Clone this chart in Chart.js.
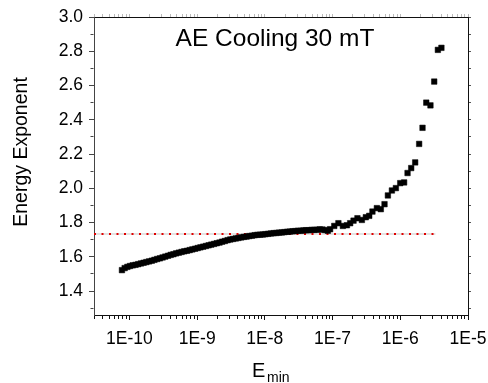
<!DOCTYPE html>
<html>
<head>
<meta charset="utf-8">
<title>AE Cooling 30 mT</title>
<script src="https://cdn.jsdelivr.net/npm/chart.js@4.4.1/dist/chart.umd.min.js"></script>
<style>
  html, body { margin: 0; padding: 0; background: #fff; }
  #aeChart { display: block; }
</style>
</head>
<body>
<canvas id="aeChart" width="488" height="383"></canvas>
<script>
// DATA

const eMin = [
  7.76e-11, 8.51e-11, 9.33e-11,
  1.02e-10, 1.12e-10, 1.23e-10, 1.35e-10, 1.48e-10, 1.62e-10, 1.78e-10, 1.95e-10,
  2.14e-10, 2.34e-10, 2.57e-10, 2.82e-10, 3.09e-10, 3.39e-10, 3.72e-10, 4.07e-10,
  4.47e-10, 4.9e-10, 5.37e-10, 5.89e-10, 6.46e-10, 7.08e-10, 7.76e-10, 8.51e-10, 9.33e-10,
  1.02e-9, 1.12e-9, 1.23e-9, 1.35e-9, 1.48e-9, 1.62e-9, 1.78e-9, 1.95e-9,
  2.14e-9, 2.34e-9, 2.57e-9, 2.82e-9, 3.09e-9, 3.39e-9, 3.72e-9, 4.07e-9,
  4.47e-9, 4.9e-9, 5.37e-9, 5.89e-9, 6.46e-9, 7.08e-9, 7.76e-9, 8.51e-9, 9.33e-9,
  1.02e-8, 1.12e-8, 1.23e-8, 1.35e-8, 1.48e-8, 1.62e-8, 1.78e-8, 1.95e-8,
  2.14e-8, 2.34e-8, 2.57e-8, 2.82e-8, 3.09e-8, 3.39e-8, 3.72e-8, 4.07e-8,
  4.47e-8, 4.9e-8, 5.37e-8, 5.89e-8, 6.46e-8, 7.08e-8, 7.76e-8, 8.51e-8,
  9.2e-8, 1.06e-7, 1.22e-7, 1.42e-7, 1.63e-7, 1.82e-7, 2.04e-7, 2.33e-7,
  2.71e-7, 3.1e-7, 3.48e-7, 3.88e-7, 4.51e-7, 5.16e-7, 5.85e-7, 6.56e-7,
  7.52e-7, 8.61e-7, 9.98e-7, 1.14e-6, 1.28e-6, 1.45e-6, 1.66e-6, 1.9e-6,
  2.13e-6, 2.42e-6, 2.79e-6, 3.17e-6, 3.59e-6, 4.05e-6,
];

const energyExponent = [
  1.522, 1.534, 1.541,
  1.546, 1.55, 1.553, 1.557, 1.561, 1.565, 1.569, 1.573,
  1.577, 1.582, 1.587, 1.591, 1.596, 1.601, 1.606, 1.611,
  1.615, 1.62, 1.624, 1.628, 1.632, 1.635, 1.639, 1.643, 1.647,
  1.651, 1.655, 1.659, 1.663, 1.667, 1.671, 1.675, 1.679,
  1.683, 1.688, 1.692, 1.697, 1.701, 1.704, 1.707, 1.71,
  1.713, 1.716, 1.718, 1.721, 1.723, 1.726, 1.728, 1.729, 1.73,
  1.732, 1.734, 1.736, 1.738, 1.739, 1.741, 1.742, 1.744,
  1.746, 1.747, 1.749, 1.75, 1.752, 1.752, 1.754, 1.755,
  1.755, 1.757, 1.757, 1.758, 1.76, 1.759, 1.756, 1.752,
  1.761, 1.78, 1.796, 1.78, 1.784, 1.796, 1.811, 1.825,
  1.815, 1.831, 1.839, 1.864, 1.884, 1.878, 1.907, 1.958,
  1.987, 2.001, 2.03, 2.034, 2.089, 2.118, 2.151, 2.259,
  2.353, 2.5, 2.484, 2.623, 2.808, 2.82,
];

// plateau level (dotted red line)
const plateauX = [3e-11, 3.3e-6];
const plateauY = [1.733, 1.733];

const xTickLabels = ["1E-10", "1E-9", "1E-8", "1E-7", "1E-6", "1E-5"];
const yTickLabels = ["1.4", "1.6", "1.8", "2.0", "2.2", "2.4", "2.6", "2.8", "3.0"];

const titleText = "AE Cooling 30 mT";
const yTitle = "Energy Exponent";

// HELPERS

const FONT = '"Liberation Sans", Arial, Helvetica, sans-serif';
const xMajor = xTickLabels.map((s) => Number(s.replace("E", "e")));

function logTicks(scale) {
  const out = [];
  for (let e = -11; e <= -5; e++) {
    for (let m = 1; m <= 9; m++) {
      const v = Number(m + "e" + e);
      if (v >= scale.min * 0.999 && v <= scale.max * 1.001) out.push({ value: v, major: m === 1 });
    }
  }
  scale.ticks = out;
}

function linTicks(scale) {
  const out = [];
  for (let i = 13; i <= 30; i++) {
    const v = i / 10;
    out.push({ value: v, major: yTickLabels.includes(v.toFixed(1)) });
  }
  scale.ticks = out;
}

const isMajorX = (ctx) => ctx.tick && xMajor.some((v) => Math.abs(v - ctx.tick.value) / v < 1e-6);
const isMajorY = (ctx) => ctx.tick && yTickLabels.includes(ctx.tick.value.toFixed(1));

const data = eMin.map((x, i) => ({ x: x, y: energyExponent[i] }));
const plateau = plateauX.map((x, i) => ({ x: x, y: plateauY[i] }));

const textPlugin = {
  id: "texts",
  afterDraw(chart) {
    const ctx = chart.ctx;
    const a = chart.chartArea;
    ctx.save();
    ctx.fillStyle = "#000";
    ctx.textBaseline = "alphabetic";

    ctx.font = "24.5px " + FONT;
    ctx.textAlign = "center";
    ctx.fillText(titleText, a.left + 181, a.top + 29);

    ctx.save();
    ctx.translate(27, 152);
    ctx.rotate(-Math.PI / 2);
    ctx.font = "19.5px " + FONT;
    ctx.fillText(yTitle, 0, 0);
    ctx.restore();

    ctx.textAlign = "left";
    ctx.font = "20px " + FONT;
    ctx.fillText("E", 252, 377);
    ctx.font = "14px " + FONT;
    ctx.fillText("min", 267, 382);
    ctx.restore();
  },
};

// CHART

new Chart(document.getElementById("aeChart"), {
  type: "scatter",
  data: {
    datasets: [
      {
        label: "plateau base",
        type: "line",
        data: plateau,
        borderColor: "#c8c8c8",
        borderWidth: 1,
        pointRadius: 0,
        fill: false,
        order: 3,
      },
      {
        label: "plateau",
        type: "line",
        data: plateau,
        borderColor: "#e00000",
        borderWidth: 2,
        borderDash: [2, 5.5],
        pointRadius: 0,
        fill: false,
        order: 2,
      },
      {
        label: "Energy Exponent",
        data: data,
        pointStyle: "rect",
        pointRadius: 3.9,
        pointBorderWidth: 0.5,
        backgroundColor: "#000",
        borderColor: "#000",
        order: 1,
      },
    ],
  },
  options: {
    responsive: false,
    animation: false,
    events: [],
    layout: { padding: { top: 17, right: 20, bottom: 0, left: 0 } },
    plugins: {
      legend: { display: false },
      tooltip: { enabled: false },
      title: { display: false },
    },
    scales: {
      x: {
        type: "logarithmic",
        position: "bottom",
        min: 3e-11,
        max: 1e-5,
        afterBuildTicks: logTicks,
        afterFit: (s) => { s.height = 68; s.paddingLeft = 0; s.paddingRight = 0; },
        border: { display: true, color: "#111", width: 1 },
        grid: {
          drawOnChartArea: false,
          drawTicks: true,
          tickLength: 5,
          tickColor: "#111",
          tickBorderDash: (ctx) => (isMajorX(ctx) ? [] : [3, 10]),
        },
        ticks: {
          autoSkip: false,
          maxRotation: 0,
          padding: 9,
          color: "#000",
          font: { family: FONT, size: 17.5 },
          callback: (v) => {
            const i = xMajor.findIndex((m) => Math.abs(m - v) / m < 1e-6);
            return i >= 0 ? xTickLabels[i] : "";
          },
        },
      },
      x2: {
        type: "logarithmic",
        position: "top",
        min: 3e-11,
        max: 1e-5,
        afterBuildTicks: logTicks,
        afterFit: (s) => { s.height = 0; s.paddingLeft = 0; s.paddingRight = 0; },
        border: { display: true, color: "#111", width: 1 },
        grid: { drawOnChartArea: false, tickLength: 3, tickColor: "#bbb" },
        ticks: { display: false, autoSkip: false },
      },
      y: {
        type: "linear",
        position: "left",
        min: 1.26,
        max: 3.0,
        afterBuildTicks: linTicks,
        afterFit: (s) => { s.width = 94; s.paddingTop = 0; s.paddingBottom = 0; },
        border: { display: true, color: "#444", width: 1 },
        grid: {
          drawOnChartArea: false,
          tickLength: 5,
          tickColor: "#444",
          tickBorderDash: (ctx) => (isMajorY(ctx) ? [] : [3, 10]),
          tickBorderDashOffset: (ctx) => (isMajorY(ctx) ? 0 : 11.5),
        },
        ticks: {
          autoSkip: false,
          padding: 6,
          color: "#000",
          font: { family: FONT, size: 17.5 },
          callback: (v) => (yTickLabels.includes(Number(v).toFixed(1)) ? Number(v).toFixed(1) : ""),
        },
      },
      y2: {
        type: "linear",
        position: "right",
        min: 1.26,
        max: 3.0,
        afterBuildTicks: linTicks,
        afterFit: (s) => { s.width = 0; s.paddingTop = 0; s.paddingBottom = 0; },
        border: { display: true, color: "#111", width: 1 },
        grid: { drawOnChartArea: false, tickLength: 3, tickColor: "#555" },
        ticks: { display: false, autoSkip: false },
      },
    },
  },
  plugins: [textPlugin],
});
</script>
</body>
</html>
